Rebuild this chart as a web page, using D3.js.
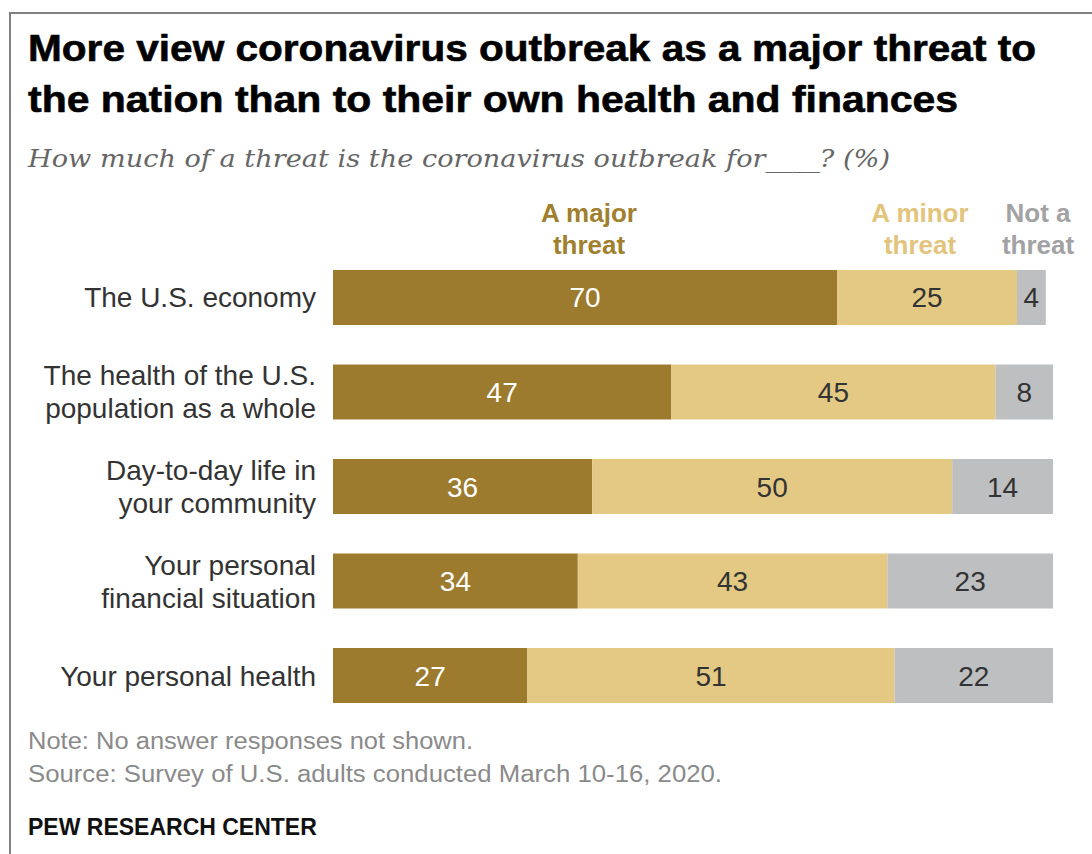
<!DOCTYPE html>
<html>
<head>
<meta charset="utf-8">
<script src="https://cdn.jsdelivr.net/npm/d3@7"></script>
<style>
  html, body { margin: 0; padding: 0; background: #fff; }
  svg { display: block; }
</style>
</head>
<body>
<script>
const categories = [
  ["The U.S. economy"],
  ["The health of the U.S.", "population as a whole"],
  ["Day-to-day life in", "your community"],
  ["Your personal", "financial situation"],
  ["Your personal health"]
];
const majorThreat = [70, 47, 36, 34, 27];
const minorThreat = [25, 45, 50, 43, 51];
const notThreat   = [4, 8, 14, 23, 22];
const seriesNames = [["A major", "threat"], ["A minor", "threat"], ["Not a", "threat"]];
const seriesColors = ["#9c7b2e", "#e3c983", "#bebfc1"];
const legendColors = ["#a07f2e", "#e2c47c", "#a2a2a4"];
const valueColors = ["#ffffff", "#333333", "#333333"];

const W = 1092, H = 854;
const svg = d3.select("body").append("svg").attr("width", W).attr("height", H);

// frame
svg.append("path").attr("d", `M10,${H} L10,13 L${W},13`)
  .attr("fill", "none").attr("stroke", "#808080").attr("stroke-width", 2);

const sans = "'Liberation Sans', Arial, sans-serif";
const narrow = "'Liberation Sans Narrow', 'Liberation Sans', Arial, sans-serif";

function fit(sel, w) { sel.attr("textLength", w).attr("lengthAdjust", "spacingAndGlyphs"); return sel; }

// title
const title = ["More view coronavirus outbreak as a major threat to",
               "the nation than to their own health and finances"];
const titleW = [1008, 930];
svg.selectAll("text.title").data(title).enter().append("text")
  .attr("class", "title")
  .attr("x", 28).attr("y", (d, i) => 61 + i * 51)
  .attr("font-family", sans).attr("font-weight", "bold")
  .attr("font-size", 37).attr("fill", "#000")
  .attr("stroke", "#000").attr("stroke-width", 0.6)
  .attr("textLength", (d, i) => titleW[i]).attr("lengthAdjust", "spacingAndGlyphs")
  .text(d => d);

fit(svg.append("text").attr("x", 28).attr("y", 167)
  .attr("font-family", "'DejaVu Serif', 'Liberation Serif', serif")
  .attr("font-style", "italic").attr("font-size", 25).attr("fill", "#666")
  .text("How much of a threat is the coronavirus outbreak for____? (%)"), 862);

// scales
const x = d3.scaleLinear().domain([0, 100]).range([333, 1053]);
const y = d3.scaleBand().domain(d3.range(categories.length))
  .range([270, 703]).paddingInner(0.418).paddingOuter(0);

const stackData = categories.map((c, i) => ({ i, vals: [majorThreat[i], minorThreat[i], notThreat[i]] }));

// legend
const legendX = [589, 920, 1038];
seriesNames.forEach((lines, s) => {
  const t = svg.append("text").attr("x", legendX[s]).attr("text-anchor", "middle")
    .attr("font-family", narrow).attr("font-weight", "bold").attr("font-size", 26)
    .attr("fill", legendColors[s]);
  lines.forEach((l, k) => t.append("tspan").attr("x", legendX[s]).attr("y", 222 + k * 32).text(l));
});

// bars
const rows = svg.selectAll("g.row").data(stackData).enter().append("g").attr("class", "row");
rows.each(function(d) {
  const g = d3.select(this);
  let cum = 0;
  d.vals.forEach((v, s) => {
    const x0 = x(cum), x1 = x(cum + v);
    g.append("rect").attr("x", x0).attr("y", y(d.i))
      .attr("width", x1 - x0).attr("height", y.bandwidth())
      .attr("fill", seriesColors[s]);
    g.append("text").attr("x", (x0 + x1) / 2).attr("y", y(d.i) + y.bandwidth() / 2 + 10)
      .attr("text-anchor", "middle").attr("font-family", sans).attr("font-size", 28)
      .attr("fill", valueColors[s]).text(v);
    cum += v;
  });
});

// category labels
categories.forEach((lines, i) => {
  const cy = y(i) + y.bandwidth() / 2;
  const lh = 33;
  const t = svg.append("text").attr("text-anchor", "end")
    .attr("font-family", sans).attr("font-size", 28).attr("fill", "#333");
  lines.forEach((l, k) => {
    t.append("tspan").attr("x", 316)
      .attr("y", cy + 10 + (k - (lines.length - 1) / 2) * lh).text(l);
  });
});

// footer
fit(svg.append("text").attr("x", 28).attr("y", 749)
  .attr("font-family", sans).attr("font-size", 23).attr("fill", "#8a8a8a")
  .text("Note: No answer responses not shown."), 445);
fit(svg.append("text").attr("x", 28).attr("y", 782)
  .attr("font-family", sans).attr("font-size", 23).attr("fill", "#8a8a8a")
  .text("Source: Survey of U.S. adults conducted March 10-16, 2020."), 694);
svg.append("text").attr("x", 28).attr("y", 835)
  .attr("font-family", narrow).attr("font-weight", "bold").attr("font-size", 23).attr("fill", "#111")
  .text("PEW RESEARCH CENTER");
</script>
</body>
</html>
